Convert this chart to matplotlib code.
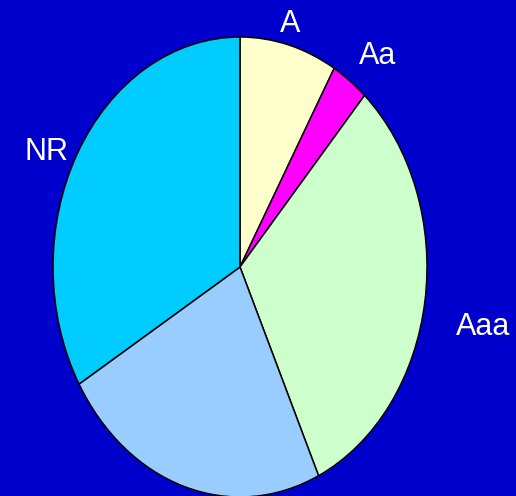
import matplotlib
matplotlib.use('Agg')
import matplotlib.pyplot as plt

labels = ['A', 'Aa', 'Aaa', '', 'NR']
values = [8.4, 3.2, 31.5, 23.4, 33.5]
colors = ['#FFFFCC', '#FF00FF', '#CCFFCC', '#99CCFF', '#00CCFF']

# label placement in data coords (pie radius 1, stretched into an ellipse)
label_pos = [(0.267, 1.057), (0.738, 0.917), (1.30, -0.261), None, (-1.037, 0.50)]

bg = '#0000CC'
fig = plt.figure(figsize=(5.16, 4.96), dpi=100, facecolor=bg)
ax = fig.add_axes([53 / 516, -1 / 496, 374 / 516, 460 / 496])
ax.set_facecolor(bg)

ax.pie(values, colors=colors, startangle=90, counterclock=False, radius=1.0,
       wedgeprops=dict(edgecolor='black', linewidth=1.1))
ax.set_aspect('auto')
ax.set_xlim(-1, 1)
ax.set_ylim(-1, 1)
ax.axis('off')

for lab, pos in zip(labels, label_pos):
    if pos is None:
        continue
    ax.text(pos[0], pos[1], lab, ha='center', va='center', color='white',
            fontsize=22, family='Liberation Sans', clip_on=False)

fig.savefig('out.png', dpi=100, facecolor=bg)
